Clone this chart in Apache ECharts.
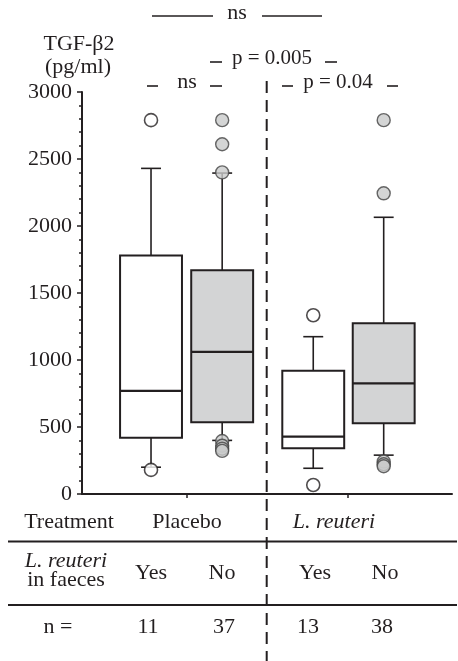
<!DOCTYPE html>
<html><head><meta charset="utf-8">
<script src="https://cdn.jsdelivr.net/npm/echarts@6/dist/echarts.min.js"></script>
<style>html,body{margin:0;padding:0;background:#fff}#c{width:458px;height:661px}</style>
</head><body><div id="c"></div>
<script>
// ---- data ----
const categories = ['Placebo Yes', 'Placebo No', 'L. reuteri Yes', 'L. reuteri No'];
const whiskerLow  = [200, 400, 192, 290];
const q1          = [420, 535, 341, 528];
const median      = [770, 1060, 428, 826];
const q3          = [1780, 1669, 920, 1274];
const whiskerHigh = [2430, 2395, 1174, 2065];
const outliers = [
  [2790, 180],
  [2790, 2610, 2400, 395, 360, 338, 322],
  [1334, 67],
  [2790, 2244, 242, 222, 207]
];
const yTickLabels = ['0', '500', '1000', '1500', '2000', '2500', '3000'];
const treatmentLabels = ['Placebo', 'L. reuteri'];
const faecesLabels = ['Yes', 'No', 'Yes', 'No'];
const nCounts = [11, 37, 13, 38];

// ---- layout / style ----
const slotPos = [0.97, 1.97, 3.25, 4.24];
const fills = ['#ffffff', '#d3d4d5', '#ffffff', '#d3d4d5'];
const BOX_W = 0.87, CAP_W = 0.28;
const INK = '#231f20';
const FONT = '"Liberation Serif", "Times New Roman", serif';

const boxData = categories.map((c, i) => [slotPos[i], whiskerLow[i], q1[i], median[i], q3[i], whiskerHigh[i]]);
const yesOut = [], noOut = [];
outliers.forEach((arr, i) => arr.forEach(v => (i % 2 === 0 ? yesOut : noOut).push([slotPos[i], v])));

function renderBox(params, api) {
  const x = api.value(0);
  const lo = api.coord([x, api.value(1)]);
  const b1 = api.coord([x, api.value(2)]);
  const md = api.coord([x, api.value(3)]);
  const b3 = api.coord([x, api.value(4)]);
  const hi = api.coord([x, api.value(5)]);
  const half = api.size([BOX_W, 0])[0] / 2;
  const cap = api.size([CAP_W, 0])[0] / 2;
  const cx = lo[0];
  const thin = { stroke: INK, lineWidth: 1.6 };
  return {
    type: 'group',
    children: [
      { type: 'line', shape: { x1: cx, y1: lo[1], x2: cx, y2: b1[1] }, style: thin },
      { type: 'line', shape: { x1: cx, y1: b3[1], x2: cx, y2: hi[1] }, style: thin },
      { type: 'line', shape: { x1: cx - cap, y1: lo[1], x2: cx + cap, y2: lo[1] }, style: thin },
      { type: 'line', shape: { x1: cx - cap, y1: hi[1], x2: cx + cap, y2: hi[1] }, style: thin },
      { type: 'rect', shape: { x: cx - half, y: b3[1], width: half * 2, height: b1[1] - b3[1] },
        style: { fill: fills[params.dataIndex], stroke: INK, lineWidth: 2 } },
      { type: 'line', shape: { x1: cx - half, y1: md[1], x2: cx + half, y2: md[1] }, style: { stroke: INK, lineWidth: 2.2 } }
    ]
  };
}

function txt(text, x, y, opts) {
  return Object.assign({ type: 'text', x: x, y: y, style: Object.assign({
    text: text, fill: INK, fontFamily: FONT, fontSize: 22, align: 'center', verticalAlign: 'middle'
  }, opts || {}) });
}
function hline(x1, x2, y, w) {
  return { type: 'line', shape: { x1: x1, y1: y, x2: x2, y2: y }, style: { stroke: INK, lineWidth: w || 1.6 } };
}

const graphics = [
  // top ns bracket
  hline(152, 213, 16), txt('ns', 237, 13), hline(262, 322, 16),
  // y axis title
  txt('TGF-β2', 79, 44), txt('(pg/ml)', 78, 67),
  // p = 0.005
  hline(210, 222, 62), txt('p = 0.005', 272, 58, { fontSize: 21 }), hline(325, 337, 62),
  // ns lower
  hline(147, 158, 86), txt('ns', 187, 82), hline(210, 222, 86),
  // p = 0.04
  hline(282, 293, 86), txt('p = 0.04', 338, 82, { fontSize: 21 }), hline(387, 398, 86),
  // dashed separator
  { type: 'line', shape: { x1: 266.7, y1: 81, x2: 266.7, y2: 661 }, style: { stroke: INK, lineWidth: 2, lineDash: [12, 7] } },
  // table
  txt('Treatment', 69, 522),
  txt(treatmentLabels[0], 187, 522),
  txt(treatmentLabels[1], 334, 522, { fontStyle: 'italic' }),
  hline(8, 457, 541.5, 2),
  txt('L. reuteri', 66, 561, { fontStyle: 'italic' }),
  txt('in faeces', 66, 580),
  txt(faecesLabels[0], 151, 573), txt(faecesLabels[1], 222, 573),
  txt(faecesLabels[2], 315, 573), txt(faecesLabels[3], 385, 573),
  hline(8, 457, 605, 2),
  txt('n =', 58, 627),
  txt(String(nCounts[0]), 148, 627), txt(String(nCounts[1]), 224, 627),
  txt(String(nCounts[2]), 308, 627), txt(String(nCounts[3]), 382, 627)
];

const chart = echarts.init(document.getElementById('c'), null, { renderer: 'canvas' });
chart.setOption({
  animation: false,
  backgroundColor: '#fff',
  grid: { left: 82, right: 6, top: 92, bottom: 167 },
  xAxis: {
    type: 'value', min: 0, max: 5.2,
    axisLine: { show: true, lineStyle: { color: INK, width: 2 } },
    axisTick: { show: true, customValues: [1.47, 3.73], length: 4, lineStyle: { color: INK, width: 1.5 } },
    axisLabel: { show: false },
    splitLine: { show: false }
  },
  yAxis: {
    type: 'value', min: 0, max: 3000, interval: 500,
    axisLine: { show: true, lineStyle: { color: INK, width: 2 } },
    axisTick: { show: true, length: 5, lineStyle: { color: INK, width: 1.5 } },
    minorTick: { show: true, splitNumber: 5, length: 3, lineStyle: { color: INK, width: 1.5 } },
    axisLabel: { margin: 10, color: INK, fontFamily: FONT, fontSize: 22,
      formatter: (v) => yTickLabels[Math.round(v / 500)] },
    splitLine: { show: false }
  },
  series: [
    { type: 'custom', renderItem: renderBox, data: boxData, z: 2, encode: { x: 0, y: [1, 2, 3, 4, 5] } },
    { type: 'scatter', data: yesOut, symbol: 'circle', symbolSize: 13, z: 3,
      itemStyle: { color: '#ffffff', borderColor: INK, borderWidth: 1.6 } },
    { type: 'scatter', data: noOut, symbol: 'circle', symbolSize: 13, z: 3,
      itemStyle: { color: '#c9cacb', borderColor: '#444', borderWidth: 1.4 } }
  ],
  graphic: graphics
});
</script>
</body></html>
